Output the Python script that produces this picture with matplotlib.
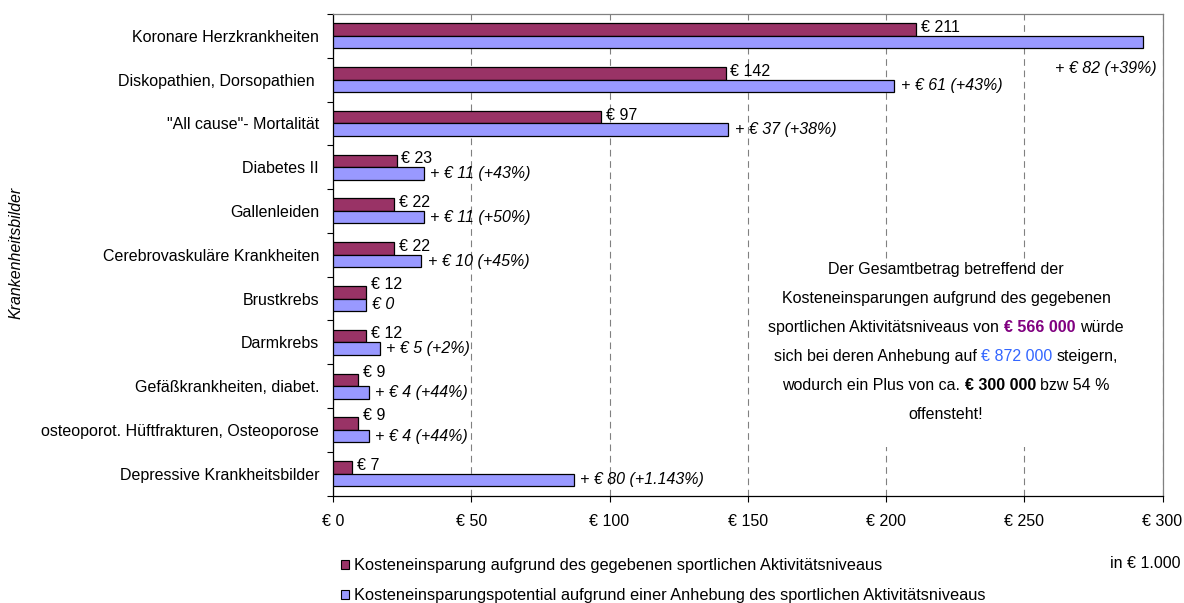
import numpy as np
import matplotlib
matplotlib.use("Agg")
import matplotlib.pyplot as plt
from matplotlib.patches import Patch, Rectangle

plt.rcParams['font.family'] = ['Liberation Sans', 'DejaVu Sans']
plt.rcParams['font.size'] = 11.5

# ---- data (in € 1.000) ----
categories = [
    "Koronare Herzkrankheiten",
    "Diskopathien, Dorsopathien ",
    "\"All cause\"- Mortalität",
    "Diabetes II",
    "Gallenleiden",
    "Cerebrovaskuläre Krankheiten",
    "Brustkrebs",
    "Darmkrebs",
    "Gefäßkrankheiten, diabet.",
    "osteoporot. Hüftfrakturen, Osteoporose",
    "Depressive Krankheitsbilder",
]
current_savings = [211, 142, 97, 23, 22, 22, 12, 12, 9, 9, 7]
raised_potential = [293, 203, 143, 33, 33, 32, 12, 17, 13, 13, 87]
increase_labels = [
    "+ € 82 (+39%)", "+ € 61 (+43%)", "+ € 37 (+38%)", "+ € 11 (+43%)",
    "+ € 11 (+50%)", "+ € 10 (+45%)", "€ 0", "+ € 5 (+2%)",
    "+ € 4 (+44%)", "+ € 4 (+44%)", "+ € 80 (+1.143%)",
]
x_ticks = [0, 50, 100, 150, 200, 250, 300]
x_tick_labels = ["€ 0", "€ 50", "€ 100", "€ 150", "€ 200", "€ 250", "€ 300"]
legend_labels = [
    "Kosteneinsparung aufgrund des gegebenen sportlichen Aktivitätsniveaus",
    "Kosteneinsparungspotential aufgrund einer Anhebung des sportlichen Aktivitätsniveaus",
]

RED = "#993366"
BLUE = "#9999FF"
W, H = 1184, 603

fig = plt.figure(figsize=(W / 100, H / 100), dpi=100)
fig.patch.set_facecolor("white")


def fx(px):
    return px / W


def fy(py):
    return 1 - py / H


ax = fig.add_axes([fx(333), fy(495.5), fx(1162.5) - fx(333), fy(14) - fy(495.5)])
ax.set_xlim(0, 300)
ax.set_ylim(len(categories) - 0.5, -0.5)

y = np.arange(len(categories))
h = 0.286
ax.barh(y - h / 2, current_savings, height=h, color=RED, edgecolor="black",
        linewidth=0.9, zorder=3)
ax.barh(y + h / 2, raised_potential, height=h, color=BLUE, edgecolor="black",
        linewidth=0.9, zorder=3)

# value labels
lifted = {"Brustkrebs", "Gefäßkrankheiten, diabet.", "osteoporot. Hüftfrakturen, Osteoporose"}
for i, (cat, v, p, lab) in enumerate(zip(categories, current_savings, raised_potential, increase_labels)):
    dy = 5.5 if cat in lifted else 1.5
    ax.annotate(f"€ {v}", xy=(v, i - h / 2), xytext=(3.5, dy), textcoords="offset points",
                ha="left", va="center", zorder=5)
    if i == 0:
        ax.text(298, i + 0.74, lab, ha="right", va="center", style="italic", zorder=5)
    else:
        ax.annotate(lab, xy=(p, i + h / 2), xytext=(4.5, 0), textcoords="offset points",
                    ha="left", va="center", style="italic", zorder=5)

# axes styling
ax.set_xticks(x_ticks)
ax.set_xticklabels(x_tick_labels)
ax.tick_params(axis="x", length=4, width=0.8, pad=9, direction="out")
ax.set_yticks(np.arange(-0.5, len(categories), 1))
ax.set_yticklabels([])
ax.set_yticks(y, minor=True)
ax.set_yticklabels(categories, minor=True)
ax.tick_params(axis="y", which="major", length=4, width=0.8, direction="out")
ax.tick_params(axis="y", which="minor", length=0, pad=10)

ax.xaxis.grid(True, linestyle=(0, (6, 4.2)), color="#808080", linewidth=0.8)
ax.set_axisbelow(True)
for side in ("left", "bottom"):
    ax.spines[side].set_color("black")
    ax.spines[side].set_linewidth(0.9)
for side in ("top", "right"):
    ax.spines[side].set_color("#808080")
    ax.spines[side].set_linewidth(0.9)

fig.text(fx(16), fy(253), "Krankenheitsbilder", rotation=90, ha="center", va="center",
         style="italic")

# summary note on a white panel
ax.add_patch(Rectangle((155, 5.35), 108, 4.05, transform=ax.transData,
                       facecolor="white", edgecolor="none", zorder=2))

renderer = fig.canvas.get_renderer()


def text_width(s, **kw):
    t = fig.text(0, 0, s, **kw)
    w = t.get_window_extent(renderer).width
    t.remove()
    return w


space_w = text_width("x x") - text_width("xx")

note_lines = [
    [("Der Gesamtbetrag betreffend der", {})],
    [("Kosteneinsparungen aufgrund des gegebenen", {})],
    [("sportlichen Aktivitätsniveaus von", {}),
     ("€ 566 000", {"color": "#800080", "weight": "bold"}),
     ("würde", {})],
    [("sich bei deren Anhebung auf", {}),
     ("€ 872 000", {"color": "#3366FF"}),
     ("steigern,", {})],
    [("wodurch ein Plus von ca.", {}),
     ("€ 300 000", {"weight": "bold"}),
     ("bzw 54 %", {})],
    [("offensteht!", {})],
]
xc = 946
for k, segs in enumerate(note_lines):
    base = 274 + 29 * k
    widths = [text_width(s, **p) for s, p in segs]
    total = sum(widths) + space_w * (len(segs) - 1)
    x = xc - total / 2
    for (s, p), w in zip(segs, widths):
        fig.text(fx(x), fy(base), s, ha="left", va="baseline", zorder=6, **p)
        x += w + space_w

# legend
handles = [Patch(facecolor=RED, edgecolor="black", linewidth=0.8),
           Patch(facecolor=BLUE, edgecolor="black", linewidth=0.8)]
fig.legend(handles, legend_labels, loc="upper left", bbox_to_anchor=(fx(341), fy(558)),
           frameon=False, handlelength=0.5, handleheight=0.5, handletextpad=0.3,
           labelspacing=0.92, borderpad=0, borderaxespad=0, fontsize=11.8)

fig.text(fx(1181), fy(563), "in € 1.000", ha="right", va="center")

fig.savefig("out.png", dpi=100)
